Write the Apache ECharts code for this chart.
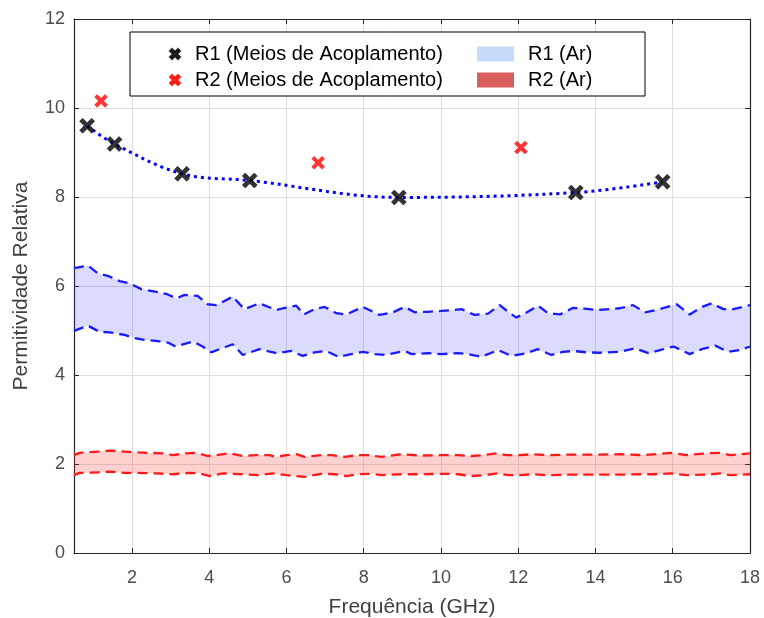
<!DOCTYPE html>
<html>
<head>
<meta charset="utf-8">
<script src="https://cdn.jsdelivr.net/npm/echarts@6/dist/echarts.min.js"></script>
<style>
  html, body { margin: 0; padding: 0; background: #fff; }
  #chart { width: 764px; height: 618px; }
</style>
</head>
<body>
<div id="chart"></div>
<script>
// Measured permittivity with coupling media (crosses)
const r1Freq = [0.84, 1.55, 3.30, 5.05, 8.91, 13.49, 15.74];
const r1Perm = [9.60, 9.19, 8.52, 8.37, 7.99, 8.10, 8.34];
const r2Freq = [1.20, 6.82, 12.07];
const r2Perm = [10.16, 8.77, 9.11];

// Air measurements: upper / lower bounds of each band, [GHz, permittivity]
const r1AirUpper = [[0.5,6.40],[0.86,6.46],[1.11,6.29],[1.37,6.23],[1.68,6.11],[1.94,6.06],[2.24,5.93],[2.63,5.87],[2.93,5.81],[3.15,5.72],[3.36,5.80],[3.70,5.78],[3.96,5.59],[4.18,5.57],[4.61,5.76],[4.91,5.48],[5.30,5.61],[5.74,5.46],[5.91,5.50],[6.25,5.56],[6.45,5.36],[6.73,5.48],[6.99,5.53],[7.29,5.39],[7.55,5.36],[7.98,5.53],[8.41,5.35],[8.76,5.41],[9.06,5.53],[9.32,5.41],[9.66,5.42],[10.01,5.44],[10.31,5.46],[10.53,5.48],[10.87,5.35],[11.22,5.38],[11.52,5.57],[11.74,5.42],[11.95,5.29],[12.25,5.42],[12.51,5.56],[12.77,5.39],[13.08,5.36],[13.42,5.51],[13.72,5.49],[14.03,5.46],[14.37,5.48],[14.63,5.50],[14.97,5.57],[15.28,5.41],[15.58,5.46],[16.10,5.59],[16.44,5.36],[16.75,5.53],[17.01,5.61],[17.31,5.48],[17.57,5.48],[18.00,5.57]];
const r1AirLower = [[0.5,4.99],[0.86,5.11],[1.16,4.97],[1.42,4.96],[1.81,4.90],[2.02,4.84],[2.32,4.79],[2.67,4.76],[2.93,4.73],[3.13,4.64],[3.58,4.75],[3.83,4.64],[4.05,4.51],[4.61,4.69],[4.87,4.45],[5.30,4.58],[5.74,4.49],[6.12,4.54],[6.42,4.43],[6.73,4.51],[7.03,4.54],[7.34,4.41],[7.68,4.47],[7.98,4.52],[8.29,4.47],[8.55,4.45],[9.06,4.54],[9.24,4.47],[9.66,4.49],[10.01,4.47],[10.44,4.49],[10.70,4.47],[11.05,4.41],[11.48,4.56],[11.82,4.43],[12.21,4.49],[12.51,4.58],[12.86,4.45],[13.16,4.52],[13.42,4.54],[13.77,4.51],[14.11,4.50],[14.63,4.52],[15.02,4.60],[15.37,4.49],[15.67,4.56],[16.02,4.64],[16.44,4.47],[16.75,4.58],[17.10,4.66],[17.44,4.52],[17.74,4.56],[18.00,4.64]];
const r2AirUpper = [[0.5,2.20],[0.64,2.25],[1.16,2.28],[1.42,2.30],[1.81,2.28],[2.11,2.26],[2.45,2.25],[2.80,2.24],[3.06,2.20],[3.40,2.24],[3.66,2.25],[3.96,2.18],[4.18,2.20],[4.53,2.24],[4.87,2.18],[5.22,2.20],[5.56,2.20],[5.74,2.16],[6.00,2.20],[6.25,2.22],[6.47,2.16],[6.90,2.20],[7.16,2.20],[7.51,2.16],[7.85,2.20],[8.11,2.20],[8.46,2.16],[8.97,2.22],[9.49,2.19],[10.10,2.20],[10.44,2.20],[10.79,2.18],[11.09,2.20],[11.44,2.24],[11.69,2.20],[12.04,2.20],[12.38,2.22],[12.73,2.20],[13.33,2.21],[13.94,2.21],[14.63,2.22],[15.23,2.20],[15.58,2.22],[15.93,2.25],[16.36,2.20],[16.88,2.24],[17.23,2.25],[17.49,2.20],[18.00,2.24]];
const r2AirLower = [[0.5,1.75],[0.64,1.80],[1.16,1.81],[1.42,1.83],[1.81,1.80],[2.11,1.80],[2.63,1.79],[3.06,1.77],[3.49,1.80],[3.75,1.79],[4.01,1.73],[4.35,1.79],[4.87,1.77],[5.30,1.75],[5.65,1.79],[6.00,1.75],[6.47,1.71],[6.90,1.78],[7.25,1.77],[7.55,1.73],[7.85,1.77],[8.20,1.78],[8.46,1.75],[8.97,1.77],[9.53,1.77],[10.10,1.78],[10.44,1.77],[10.79,1.73],[11.13,1.75],[11.48,1.79],[11.74,1.75],[12.04,1.75],[12.38,1.77],[12.73,1.75],[13.33,1.76],[13.94,1.76],[14.63,1.76],[15.23,1.77],[15.58,1.77],[15.93,1.79],[16.36,1.75],[16.88,1.76],[17.23,1.79],[17.49,1.75],[18.00,1.77]];

// Axis ticks
const xTicks = [2, 4, 6, 8, 10, 12, 14, 16, 18];
const yTicks = [0, 2, 4, 6, 8, 10, 12];

const FONT = "'Liberation Sans', Arial, sans-serif";
const AXIS_COLOR = '#262626';
const GRID_COLOR = '#dedede';
const CROSS = 'path://M2,0 L5,3 L8,0 L10,2 L7,5 L10,8 L8,10 L5,7 L2,10 L0,8 L3,5 L0,2 Z';

function zip(xs, ys) { return xs.map((x, i) => [x, ys[i]]); }

// Filled band between an upper and a lower bound, drawn through the axis scale
function bandSeries(name, upper, lower, fill) {
  return {
    name: name,
    type: 'custom',
    z: 1,
    data: [[upper[0][0], upper[0][1]]],
    renderItem: function (params, api) {
      const pts = upper.map(p => api.coord(p)).concat(lower.slice().reverse().map(p => api.coord(p)));
      return {
        type: 'polygon',
        shape: { points: pts },
        style: { fill: fill, stroke: null }
      };
    },
    silent: true
  };
}

function boundSeries(data, color) {
  return {
    type: 'line',
    data: data,
    showSymbol: false,
    symbol: 'none',
    z: 3,
    lineStyle: { color: color, width: 2.3, type: [10, 6] },
    silent: true
  };
}

const chart = echarts.init(document.getElementById('chart'), null, { renderer: 'canvas' });

chart.setOption({
  animation: false,
  backgroundColor: '#ffffff',
  textStyle: { fontFamily: FONT },
  grid: { left: 74, right: 14, top: 19, bottom: 65, containLabel: false, outerBoundsMode: 'none' },
  xAxis: [{
    type: 'value', min: 0.5, max: 18, position: 'bottom',
    name: 'Frequência (GHz)', nameLocation: 'middle', nameGap: 44,
    nameTextStyle: { fontSize: 21, color: '#404040', fontFamily: FONT },
    axisLine: { show: true, onZero: false, lineStyle: { color: AXIS_COLOR, width: 1.2 } },
    axisTick: { show: true, inside: true, length: 5, customValues: xTicks, lineStyle: { color: AXIS_COLOR } },
    axisLabel: { customValues: xTicks, fontSize: 18, color: '#4d4d4d', margin: 16, fontFamily: FONT },
    splitLine: { show: true, lineStyle: { color: GRID_COLOR, width: 1 } }
  }, {
    type: 'value', min: 0.5, max: 18, position: 'top',
    axisLine: { show: true, onZero: false, lineStyle: { color: AXIS_COLOR, width: 1.2 } },
    axisTick: { show: true, inside: true, length: 5, customValues: xTicks, lineStyle: { color: AXIS_COLOR } },
    axisLabel: { show: false },
    splitLine: { show: false }
  }],
  yAxis: [{
    type: 'value', min: 0, max: 12, interval: 2, position: 'left',
    name: 'Permitividade Relativa', nameLocation: 'middle', nameGap: 42,
    nameTextStyle: { fontSize: 21, color: '#404040', fontFamily: FONT },
    axisLine: { show: true, onZero: false, lineStyle: { color: AXIS_COLOR, width: 1.2 } },
    axisTick: { show: true, inside: true, length: 5, lineStyle: { color: AXIS_COLOR } },
    axisLabel: { fontSize: 18, color: '#4d4d4d', margin: 9, fontFamily: FONT },
    splitLine: { show: true, lineStyle: { color: GRID_COLOR, width: 1 } }
  }, {
    type: 'value', min: 0, max: 12, interval: 2, position: 'right',
    axisLine: { show: true, onZero: false, lineStyle: { color: AXIS_COLOR, width: 1.2 } },
    axisTick: { show: true, inside: true, length: 5, lineStyle: { color: AXIS_COLOR } },
    axisLabel: { show: false },
    splitLine: { show: false }
  }],
  graphic: [{
    type: 'rect', z: 50,
    shape: { x: 130, y: 32, width: 515, height: 64 },
    style: { fill: '#ffffff', stroke: '#000000', lineWidth: 1 }
  }],
  legend: [{
    z: 60, orient: 'vertical', left: 164, top: 39, itemGap: 6,
    itemWidth: 10, itemHeight: 10,
    textStyle: { fontSize: 20, color: '#000', fontFamily: FONT, padding: [0, 0, 0, 10] },
    data: [
      { name: 'R1 (Meios de Acoplamento)', icon: CROSS },
      { name: 'R2 (Meios de Acoplamento)', icon: CROSS }
    ]
  }, {
    z: 60, orient: 'vertical', left: 472, top: 39, itemGap: 6,
    itemWidth: 37, itemHeight: 15,
    textStyle: { fontSize: 20, color: '#000', fontFamily: FONT, padding: [0, 0, 0, 9] },
    data: [
      { name: 'R1 (Ar)', icon: 'rect', itemStyle: { color: '#c6dbf9' } },
      { name: 'R2 (Ar)', icon: 'rect', itemStyle: { color: '#d95f5f' } }
    ]
  }],
  series: [
    bandSeries('R1 (Ar)', r1AirUpper, r1AirLower, 'rgba(40,40,255,0.17)'),
    bandSeries('R2 (Ar)', r2AirUpper, r2AirLower, 'rgba(255,40,40,0.22)'),
    boundSeries(r1AirUpper, '#1a1aff'),
    boundSeries(r1AirLower, '#1a1aff'),
    boundSeries(r2AirUpper, '#ff1a1a'),
    boundSeries(r2AirLower, '#ff1a1a'),
    {
      type: 'line',
      data: zip(r1Freq, r1Perm),
      smooth: 0.35,
      symbol: 'none',
      z: 4,
      lineStyle: { color: '#0000ff', width: 3, type: [3, 4] },
      silent: true
    },
    {
      name: 'R1 (Meios de Acoplamento)',
      type: 'scatter',
      data: zip(r1Freq, r1Perm),
      symbol: CROSS,
      symbolSize: 15,
      z: 5,
      itemStyle: { color: '#000000', borderColor: '#000000', borderWidth: 0.6 }
    },
    {
      name: 'R2 (Meios de Acoplamento)',
      type: 'scatter',
      data: zip(r2Freq, r2Perm),
      symbol: CROSS,
      symbolSize: 13,
      z: 5,
      itemStyle: { color: '#ff0000', borderColor: '#ff0000', borderWidth: 0.4 }
    }
  ]
});
</script>
</body>
</html>
